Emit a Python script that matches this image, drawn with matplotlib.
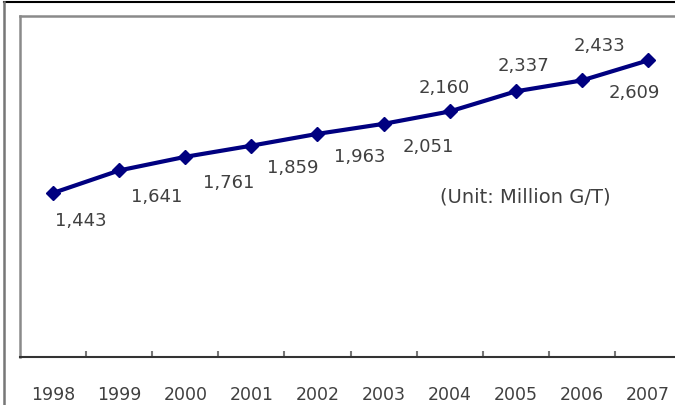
import matplotlib.pyplot as plt
from matplotlib.lines import Line2D

# data
years = ['1998', '1999', '2000', '2001', '2002', '2003', '2004', '2005', '2006', '2007']
tonnage = [1443, 1641, 1761, 1859, 1963, 2051, 2160, 2337, 2433, 2609]
# label offsets in pixels (dx, dy) relative to each point
label_offsets = [(28, -27), (38, -26), (43, -25), (41, -21), (42, -22),
                 (45, -22), (-5, 24), (8, 26), (18, 35), (-14, -32)]

W, H = 675, 406
fig = plt.figure(figsize=(W / 100, H / 100), dpi=100)
ax = fig.add_axes([20 / W, 48 / H, 661 / W, 341 / H])

txt_color = '#404040'

x = list(range(len(years)))
ax.plot(x, tonnage, color='#000080', lw=3, marker='D', markersize=7,
        markerfacecolor='#000080', markeredgecolor='#000080', clip_on=False, zorder=3)

for i, v in enumerate(tonnage):
    dx, dy = label_offsets[i]
    ax.annotate(f'{v:,}', (i, v), xytext=(dx, dy), textcoords='offset pixels',
                ha='center', va='center', fontsize=13, color=txt_color)

ax.set_xlim(-0.5, len(years) - 0.5)
ax.set_ylim(0, 3000)
ax.set_yticks([])
ax.set_xticks(x)
ax.set_xticklabels(years, fontsize=12.5, color=txt_color)
ax.tick_params(axis='x', which='major', length=0, pad=20)
ax.set_xticks([i + 0.5 for i in x[:-1]], minor=True)
ax.tick_params(axis='x', which='minor', direction='in', length=4, width=1.5, color='#777777')

for s in ['left', 'top']:
    ax.spines[s].set_color('#8a8a8a')
    ax.spines[s].set_linewidth(1.8)
ax.spines['bottom'].set_color('#333333')
ax.spines['bottom'].set_linewidth(1.5)
ax.spines['right'].set_visible(False)

fig.text(525 / W, 1 - 197 / H, '(Unit: Million G/T)', ha='center', va='center',
         fontsize=14, color=txt_color)

# outer frame lines
fig.add_artist(Line2D([4 / W, 1], [1 - 3 / H, 1 - 3 / H], color='black', lw=1.5))
fig.add_artist(Line2D([4 / W, 4 / W], [0, 1 - 3 / H], color='#777777', lw=1.8))

fig.savefig('out.png', dpi=100)
